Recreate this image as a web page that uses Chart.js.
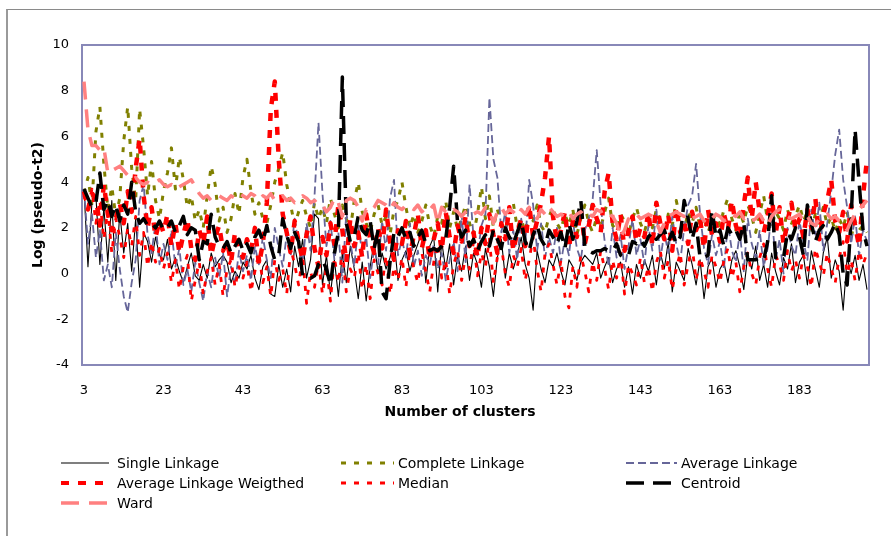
<!DOCTYPE html>
<html>
<head>
<meta charset="utf-8">
<script src="https://cdn.jsdelivr.net/npm/chart.js@4.4.1/dist/chart.umd.min.js"></script>
<style>
  html, body { margin: 0; padding: 0; background: #fff; }
  #wrap { position: relative; width: 891px; height: 536px; overflow: hidden; background: #fff;
          font-family: 'DejaVu Sans', sans-serif; }
  #frame { position: absolute; left: 6px; top: 9px; width: 920px; height: 600px;
           border-left: 2px solid #9a9a9a; border-top: 1px solid #8a8a8a; }
  #chart { position: absolute; left: 0; top: 0; }
  #xTitle { position: absolute; left: 310px; width: 300px; top: 403px; text-align: center;
            font-size: 14px; font-weight: bold; color: #000; }
  .leg { position: absolute; height: 20px; display: flex; align-items: center;
         font-size: 14px; color: #000; white-space: nowrap; }
  .leg svg { display: block; }
</style>
</head>
<body>
<div id="wrap">
  <div id="frame"></div>
  <canvas id="chart" width="891" height="536"></canvas>
  <div id="xTitle">Number of clusters</div>
  <div id="legend"></div>
</div>
<script>
// number of clusters 3 .. 200
const clusters = Array.from({ length: 198 }, (_, i) => i + 3);
const tickLabels = [3, 23, 43, 63, 83, 103, 123, 143, 163, 183];

// log(pseudo-t2), rows of 20 clusters: 3-22, 23-42, ... 183-200
const singleLinkage = [
  3.7, 0.3, 3.1, 3.4, 0.4, 2.9, 0.5, 3.2, -0.3, 2.7, 0.9, 2.2, 0.1, 2.4, -0.6, 1.8, 1.4, 0.5, 1.6, 0.8,
  0.6, 1.5, 0.2, 0.7, 0.1, -0.4, 0.3, 0.9, -0.1, -0.3, 0.4, -0.2, 0.9, 0.3, 0.6, 0.8, 0.5, -0.4, 0.1, -0.2,
  0.5, 0.2, 0.8, -0.2, -0.7, 0.3, 0.6, -0.9, -1.0, 0.4, -0.6, 0.2, -0.8, 1.2, 0.3, 1.5, -0.2, 0.6, 2.6, 2.4,
  -0.5, 0.8, -0.9, 0.6, -1.0, 0.9, -0.4, 1.2, 0.2, -1.1, 0.5, -1.2, 0.3, 1.4, 0.0, 0.9, 0.2, 0.7, 1.5, -0.3,
  0.6, 1.0, 0.1, 0.8, 1.3, 1.8, -0.4, 1.2, 1.6, -0.8, 1.4, 0.2, 1.3, -0.5, 0.8, 0.1, 1.2, -0.3, 0.9, 0.4,
  -0.6, 1.1, 0.3, -1.0, 0.7, 1.5, -0.2, 0.9, 0.2, 0.8, 1.6, 0.4, -0.2, -1.6, 1.0, 0.2, -0.4, 0.6, 0.3, 0.9,
  0.1, -0.5, 0.6, 0.3, -0.3, 0.5, 0.8, 0.6, 0.4, 0.9, -0.2, 0.3, 0.7, -0.4, 0.2, 0.5, -0.6, 0.3, -0.9, 0.4,
  -0.2, 0.6, 0.1, 0.8, -0.5, 0.9, 0.2, 1.4, -0.8, 0.5, 0.1, -0.3, 1.1, 0.4, -0.5, 0.6, -1.1, 0.3, 0.7, -0.6,
  0.2, 0.5, -0.4, 0.6, 1.0, 0.3, -0.7, 0.8, 0.2, 1.2, -0.3, 0.4, -0.6, 0.9, 0.1, -0.5, 0.7, 0.2, 1.3, -0.4,
  0.5, 0.8, -0.5, 1.0, 0.2, -0.6, 0.9, 1.6, -0.2, 0.6, 0.1, -1.6, 0.7, 0.0, 0.8, -0.3, 0.4, -0.7
];
const completeLinkage = [
  3.5, 4.2, 3.0, 6.2, 7.3, 4.8, 2.8, 3.8, 2.5, 3.3, 5.8, 7.3, 4.6, 3.2, 7.2, 5.5, 3.4, 4.9, 3.2, 2.4,
  3.6, 4.4, 5.5, 3.7, 5.1, 4.1, 2.9, 3.4, 2.3, 2.8, 2.0, 3.4, 4.7, 3.9, 2.3, 2.9, 1.8, 2.4, 3.5, 2.6,
  4.2, 5.0, 3.6, 2.6, 3.1, 2.4, 2.2, 3.0, 4.0, 4.6, 5.3, 3.9, 3.0, 2.1, 2.7, 3.2, 2.5, 2.0, 3.1, 2.4,
  2.9, 2.2, 3.3, 2.6, 2.0, 3.0, 2.4, 1.9, 3.2, 4.0, 2.7, 2.2, 1.8, 2.6, 3.0, 2.1, 2.5, 1.7, 2.8, 3.2,
  4.0, 2.9, 2.0, 2.6, 1.8, 2.3, 3.0, 2.1, 1.6, 2.5, 2.2, 3.2, 2.0, 2.7, 1.9, 2.4, 3.0, 2.2, 1.7, 2.6,
  3.8, 2.4, 3.4, 2.0, 2.8, 2.2, 1.9, 2.6, 3.1, 2.0, 2.4, 1.8, 2.7, 2.3, 3.0, 2.1, 1.8, 2.5, 2.9, 2.2,
  1.9, 2.6, 2.1, 2.8, 1.7, 2.4, 3.0, 2.2, 1.8, 2.5, 2.0, 2.7, 3.3, 2.1, 1.9, 2.6, 2.3, 1.7, 2.4, 2.9,
  2.2, 1.8, 2.5, 2.0, 2.8, 2.3, 1.7, 2.6, 2.1, 3.2, 2.4, 1.9, 2.7, 2.2, 2.9, 2.0, 2.5, 1.8, 2.3, 2.6,
  2.1, 2.8, 3.3, 2.4, 1.9, 2.7, 2.2, 3.0, 2.5, 1.8, 2.6, 3.4, 2.3, 2.0, 2.7, 2.4, 1.9, 2.8, 2.2, 2.5,
  3.0, 2.3, 2.7, 1.9, 2.6, 2.2, 2.9, 2.1, 2.5, 1.8, 2.4, 2.0, 2.7, 1.6, 2.3, 1.9, 2.1, 1.8
];
const averageLinkage = [
  3.7, 1.3, 2.6, 0.7, 1.9, -0.3, 0.4, -0.6, 1.8, 0.2, -1.0, -1.7, -0.4, 0.6, 3.2, 3.9, 1.7, 0.9, 2.2, 0.4,
  1.3, 0.6, 1.9, 0.3, 1.1, -0.5, 0.2, -0.8, 0.5, -0.4, -1.2, 0.1, -0.6, 0.7, -0.2, 0.9, -1.0, 0.3, -0.5, 1.0,
  0.1, 0.8, -0.3, 1.2, 0.4, 1.6, 0.6, -0.2, 2.0, 1.1, 0.3, 1.7, 0.8, 2.4, 1.3, 0.5, 2.2, 1.0, 3.4, 6.6,
  3.5, 1.2, 2.3, 0.6, 1.8, -0.4, 2.7, 1.4, 0.3, 2.1, 0.9, 1.6, -0.2, 1.1, 0.4, 2.3, 1.0, 3.3, 4.1, 0.8,
  1.5, 0.7, 2.2, 0.3, 1.0, -0.1, 0.8, 0.4, 1.3, 0.2, 0.9, -0.3, 0.6, 1.4, 0.1, 2.6, 0.5, 3.9, 1.6, 0.8,
  2.1, 2.6, 7.7, 5.0, 4.2, 1.8, 2.7, 0.9, 1.9, 0.6, 2.4, 1.2, 4.1, 3.0, 1.0, 2.2, 0.7, 1.6, 0.9, 2.0,
  0.5, 1.5, 0.8, 2.3, 1.1, 0.6, 1.9, 2.4, 3.3, 5.4, 3.0, 1.4, 0.3, 2.0, 0.7, 1.7, 0.2, 1.2, 2.4, 0.8,
  1.5, 0.4, 2.1, 1.0, 2.8, 0.6, 1.8, 0.9, 2.5, 1.3, 0.5, 2.0, 3.0, 3.4, 4.8, 2.6, 1.1, 0.4, 1.7, 0.8,
  1.4, 0.2, 2.2, 1.0, 0.5, 1.8, 0.1, 2.4, 1.3, 0.7, 1.9, 0.3, 1.1, 2.6, 0.6, 1.5, 0.0, 2.0, 1.2, 0.8,
  2.3, 1.4, 0.6, 2.8, 1.7, 3.1, 1.0, 2.2, 3.6, 5.2, 6.3, 4.1, 2.9, 1.3, 2.5, 0.8, 1.9, 1.4
];
const avgLinkageWeighted = [
  3.6, 2.8, 3.5, 3.3, 2.1, 3.9, 2.6, 1.9, 2.4, 3.1, 2.2, 3.6, 2.7, 4.6, 5.9, 3.4, 2.0, 2.9, 1.6, 2.3,
  1.8, 2.6, 1.2, 2.2, 0.9, 1.7, 2.4, 1.1, 0.6, 1.9, 1.3, 2.5, 0.8, 1.6, 2.1, 1.0, 1.4, 0.5, 1.8, 1.2,
  0.7, 1.5, 1.0, 2.0, 0.4, 1.3, 3.1, 7.2, 8.4, 5.0, 2.6, 1.8, 0.9, 2.3, 1.4, 0.6, 1.7, 2.5, 1.1, 0.3,
  1.6, 0.8, 2.2, 1.3, 3.0, 1.9, 0.5, 2.4, 1.2, 1.8, 0.7, 2.6, 1.5, 0.9, 2.0, 1.1, 2.8, 1.4, 0.6, 1.9,
  1.3, 2.3, 0.8, 1.7, 2.6, 1.1, 1.9, 0.6, 1.5, 2.2, 1.0, 2.7, 1.6, 0.9, 2.1, 1.4, 2.5, 1.2, 1.8, 0.7,
  2.0, 1.3, 2.6, 1.7, 0.9, 2.2, 1.5, 2.9, 1.0, 1.8, 2.4, 1.2, 3.0, 1.6, 2.3, 3.1, 4.2, 6.0, 2.5, 1.4,
  1.9, 2.7, 1.1, 2.3, 1.6, 2.8, 1.3, 2.1, 3.0, 2.4, 1.8, 3.6, 4.4, 2.2, 1.5, 2.6, 1.0, 1.9, 2.5, 1.4,
  2.0, 1.6, 2.7, 1.2, 3.1, 2.2, 1.5, 2.6, 1.0, 2.9, 1.8, 2.3, 1.3, 2.7, 1.9, 2.4, 1.1, 2.8, 1.7, 2.2,
  1.4, 2.6, 1.9, 3.2, 2.1, 1.6, 3.0, 4.2, 2.4, 4.0, 2.7, 1.8, 2.5, 3.5, 1.7, 2.9, 1.3, 2.3, 3.1, 1.9,
  2.4, 1.6, 2.8, 2.0, 3.3, 1.5, 2.6, 3.2, 4.1, 2.3, 1.8, 2.7, 1.4, 3.0, 2.1, 1.2, 3.4, 5.0
];
const median = [
  3.4, 2.9, 3.7, 2.2, 3.2, 1.5, 2.8, 0.9, 2.4, 1.6, 0.7, 2.0, 1.2, 2.5, 0.8, 1.8, 0.3, 1.4, 0.5, 1.1,
  0.2, 0.9, -0.4, 0.6, -0.7, 0.3, 0.8, -1.2, -0.3, 0.5, -0.9, 0.1, 0.7, -0.5, 0.4, -1.0, 0.2, 0.6, -0.6, 0.3,
  -0.2, 0.5, -0.8, 0.1, 0.9, -0.4, 0.3, -1.0, 0.6, -0.3, 0.2, -0.9, 1.1, 0.4, -0.5, 0.8, -1.3, 0.1, -0.6, 0.5,
  -0.9, 0.3, -1.2, 0.7, -0.4, 1.0, -0.8, 0.2, -0.2, 0.9, -0.7, 0.4, -1.1, 0.6, 0.0, -0.5, 0.8, -0.9, 0.3, -0.3,
  0.7, -0.6, 1.1, 0.2, -0.4, 0.9, 0.1, -0.8, 0.5, 1.3, -0.2, 0.6, -0.9, 0.4, 1.0, -0.3, 0.8, 0.2, 1.4, -0.1,
  0.9, 0.3, 1.5, -0.4, 0.7, 1.2, 0.0, -0.6, 0.8, 0.3, 1.1, -0.3, 0.6, 1.6, 0.2, -0.8, 0.9, 1.3, 0.4, -0.5,
  0.6, -1.0, -1.5, 0.3, -0.6, 0.8, 0.1, -0.8, 0.5, -0.3, 1.0, 0.2, -0.7, 0.6, -0.2, 0.9, -0.9, 0.4, 0.0, -0.5,
  0.7, -0.4, 0.3, -0.8, 0.5, 1.0, -0.2, 0.6, -0.7, 0.2, 0.9, -0.5, 0.4, 1.2, -0.3, 0.7, 0.1, -0.6, 0.8, 0.3,
  -0.4, 0.6, 1.1, -0.2, 0.5, -0.8, 0.3, 0.9, 0.0, -0.5, 0.7, 1.3, 0.2, -0.6, 0.8, 0.4, -0.3, 1.0, 0.1, 0.6,
  -0.2, 0.8, 0.3, -0.6, 1.1, 0.5, -0.1, 0.9, 0.2, -0.4, 0.7, 1.4, 0.0, 0.6, -0.3, 1.0, 0.4, 0.9
];
const centroid = [
  3.7, 3.3, 2.9, 3.1, 4.4, 2.8, 3.2, 2.5, 3.0, 2.3, 3.0, 2.6, 4.0, 2.7, 2.2, 2.4, 2.1, 2.2, 2.0, 2.3,
  1.9, 2.0, 2.3, 1.8, 2.1, 2.5, 1.7, 2.0, 1.9, 0.6, 1.4, 1.3, 2.6, 1.6, 1.2, 1.1, 1.4, 0.9, 1.2, 1.5,
  1.0, 1.3, 0.9, 1.6, 1.9, 1.4, 2.1, 1.2, 0.6, 0.8, 2.4, 1.7, 1.1, 1.8, 1.4, -0.1, -0.1, -0.2, -0.1, 0.4,
  0.6, 0.2, -0.5, 0.9, 1.8, 8.6, 2.2, 1.4, 1.6, 2.5, 1.9, 1.7, 2.3, 1.1, 1.9, -0.8, -1.1, 0.5, 1.8, 1.6,
  2.0, 1.5, 1.8, 1.2, 1.6, 1.9, 1.3, 1.0, 1.1, 1.0, 1.2, 1.5, 2.9, 4.7, 2.2, 1.6, 1.9, 1.2, 1.5, 1.0,
  1.4, 1.7, 1.2, 1.9, 1.5, 1.1, 2.0, 1.6, 1.3, 1.8, 2.3, 1.4, 1.0, 1.7, 2.1, 1.5, 1.2, 1.9, 1.6, 1.3,
  1.8, 1.1, 2.2, 1.5, 2.3, 3.2, 1.2, 1.0, 0.9, 1.0, 1.0, 1.1, 1.0, 1.0, 1.3, 0.8, 0.7, 0.8, 1.4, 1.3,
  1.5, 1.2, 1.6, 1.8, 1.5, 1.7, 1.9, 1.4, 1.8, 1.3, 1.6, 3.2, 2.4, 1.5, 2.2, 0.7, 0.7, 0.8, 2.8, 1.6,
  1.9, 1.2, 2.0, 1.7, 1.9, 1.5, 2.2, 0.6, 0.6, 0.6, 0.7, 0.6, 1.4, 3.4, 0.7, 0.8, 0.7, 1.8, 1.5, 2.0,
  1.6, 0.8, 3.0, 2.2, 1.4, 1.9, 2.1, 1.5, 1.8, 2.2, 1.7, 0.0, -0.5, 2.4, 6.3, 4.0, 1.9, 1.2
];
const ward = [
  8.4, 6.3, 5.6, 5.6, 5.4, 5.5, 4.4, 4.5, 4.6, 4.7, 4.5, 4.3, 4.1, 4.2, 4.0, 3.9, 4.0, 3.9, 4.0, 4.1,
  3.9, 3.8, 3.9, 3.7, 3.8, 3.9, 4.0, 4.1, 3.8, 3.5, 3.3, 3.4, 3.2, 3.3, 3.4, 3.3, 3.2, 3.4, 3.3, 3.5,
  3.4, 3.3, 3.5, 3.4, 3.2, 3.4, 3.3, 3.5, 3.2, 3.3, 3.4, 3.2, 3.3, 3.1, 3.2, 3.4, 3.3, 3.1, 3.2, 3.0,
  3.0, 2.7, 2.9, 3.3, 3.1, 2.5, 3.2, 3.3, 3.2, 2.9, 2.3, 2.8, 2.7, 2.9, 3.2, 3.1, 3.0, 2.8, 3.1, 2.9,
  2.8, 3.0, 2.9, 2.8, 3.0, 2.7, 2.9, 2.8, 3.0, 2.2, 2.9, 2.7, 2.6, 2.8, 2.7, 2.5, 2.7, 2.8, 2.6, 2.7,
  2.6, 2.9, 2.8, 2.2, 2.7, 2.9, 2.6, 2.8, 2.7, 2.5, 2.8, 2.6, 2.9, 2.7, 2.4, 2.8, 2.6, 2.9, 2.7, 2.5,
  2.6, 2.5, 2.7, 2.4, 2.6, 2.7, 2.5, 2.6, 2.5, 2.8, 2.7, 2.8, 2.6, 2.5, 2.2, 1.6, 1.9, 2.4, 2.5, 2.6,
  2.4, 2.5, 2.6, 2.5, 2.3, 1.8, 2.2, 2.5, 2.6, 2.7, 2.6, 2.5, 2.6, 2.4, 2.5, 2.6, 2.3, 2.5, 2.4, 2.6,
  2.5, 2.3, 2.4, 2.6, 2.5, 2.7, 2.4, 2.5, 2.3, 2.4, 2.6, 2.3, 2.1, 2.5, 2.7, 2.8, 2.6, 2.5, 2.4, 2.5,
  2.6, 2.3, 2.5, 2.2, 2.1, 2.4, 2.5, 2.6, 2.4, 2.5, 2.3, 2.2, 1.9, 2.3, 2.6, 2.8, 3.0, 3.2
];

const FONT = "'DejaVu Sans', sans-serif";

const series = [
  { label: 'Single Linkage', data: singleLinkage, color: '#000000', width: 1.1, dash: [], order: 7 },
  { label: 'Complete Linkage', data: completeLinkage, color: '#808000', width: 3, dash: [5, 8], order: 6 },
  { label: 'Average Linkage', data: averageLinkage, color: '#666699', width: 1.8, dash: [8, 4], order: 5 },
  { label: 'Average Linkage Weigthed', data: avgLinkageWeighted, color: '#ff0000', width: 4.5, dash: [8, 9], order: 4 },
  { label: 'Median', data: median, color: '#ff0000', width: 2.8, dash: [5, 8], order: 3 },
  { label: 'Centroid', data: centroid, color: '#000000', width: 3.5, dash: [18, 9], order: 2 },
  { label: 'Ward', data: ward, color: '#ff8080', width: 3.5, dash: [18, 10], order: 1 }
];

// lavender frame round the plot area
const plotBorder = {
  id: 'plotBorder',
  beforeDatasetsDraw(chart) {
    const { ctx, chartArea: a } = chart;
    ctx.save();
    ctx.strokeStyle = '#8888b8';
    ctx.lineWidth = 2;
    ctx.strokeRect(a.left, a.top, a.right - a.left, a.bottom - a.top);
    ctx.restore();
  }
};

const ctx = document.getElementById('chart').getContext('2d');
new Chart(ctx, {
  type: 'line',
  data: {
    labels: clusters,
    datasets: series.map(s => ({
      label: s.label,
      data: s.data,
      borderColor: s.color,
      backgroundColor: s.color,
      borderWidth: s.width,
      borderDash: s.dash,
      borderCapStyle: 'butt',
      borderJoinStyle: 'round',
      pointRadius: 0,
      tension: 0,
      fill: false,
      order: s.order
    }))
  },
  options: {
    responsive: false,
    devicePixelRatio: 1,
    animation: false,
    layout: { padding: { left: 24, top: 45, right: 22, bottom: 116 } },
    plugins: {
      legend: { display: false },
      tooltip: { enabled: false }
    },
    scales: {
      x: {
        offset: true,
        grid: { display: false, drawTicks: false },
        border: { display: false },
        ticks: {
          autoSkip: false,
          maxRotation: 0,
          padding: 18,
          color: '#000',
          font: { family: FONT, size: 13 },
          callback: function (value) {
            const lab = this.getLabelForValue(value);
            return tickLabels.includes(lab) ? String(lab) : '';
          }
        },
        afterFit: function (scale) { scale.height = 55; }
      },
      y: {
        min: -4,
        max: 10,
        grid: { display: false, drawTicks: false },
        border: { display: false },
        ticks: {
          stepSize: 2,
          padding: 13,
          color: '#000',
          font: { family: FONT, size: 13 }
        },
        title: {
          display: true,
          text: 'Log (pseudo-t2)',
          color: '#000',
          font: { family: FONT, size: 14, weight: 'bold' },
          padding: { top: 6, bottom: 0 }
        },
        afterFit: function (scale) { scale.width = 58; }
      }
    }
  },
  plugins: [plotBorder]
});

// legend in three columns, like the original
const legendCols = [
  { x: 61, w: 48, gap: 8 },
  { x: 341, w: 53, gap: 4 },
  { x: 626, w: 51, gap: 4 }
];
const legendRows = [463, 483, 503];
const legendBox = document.getElementById('legend');
series.forEach(function (s, i) {
  const col = legendCols[i % 3];
  const rowY = legendRows[Math.floor(i / 3)];
  const item = document.createElement('div');
  item.className = 'leg';
  item.style.left = col.x + 'px';
  item.style.top = (rowY - 10) + 'px';
  const dash = s.dash.length ? s.dash.join(' ') : 'none';
  item.innerHTML =
    '<svg width="' + col.w + '" height="10" style="margin-right:' + col.gap + 'px">' +
    '<line x1="0" y1="5" x2="' + col.w + '" y2="5" stroke="' + s.color + '" stroke-width="' +
    Math.min(s.width, 4) + '" stroke-dasharray="' + dash + '"/></svg>' +
    '<span>' + s.label + '</span>';
  legendBox.appendChild(item);
});
</script>
</body>
</html>
